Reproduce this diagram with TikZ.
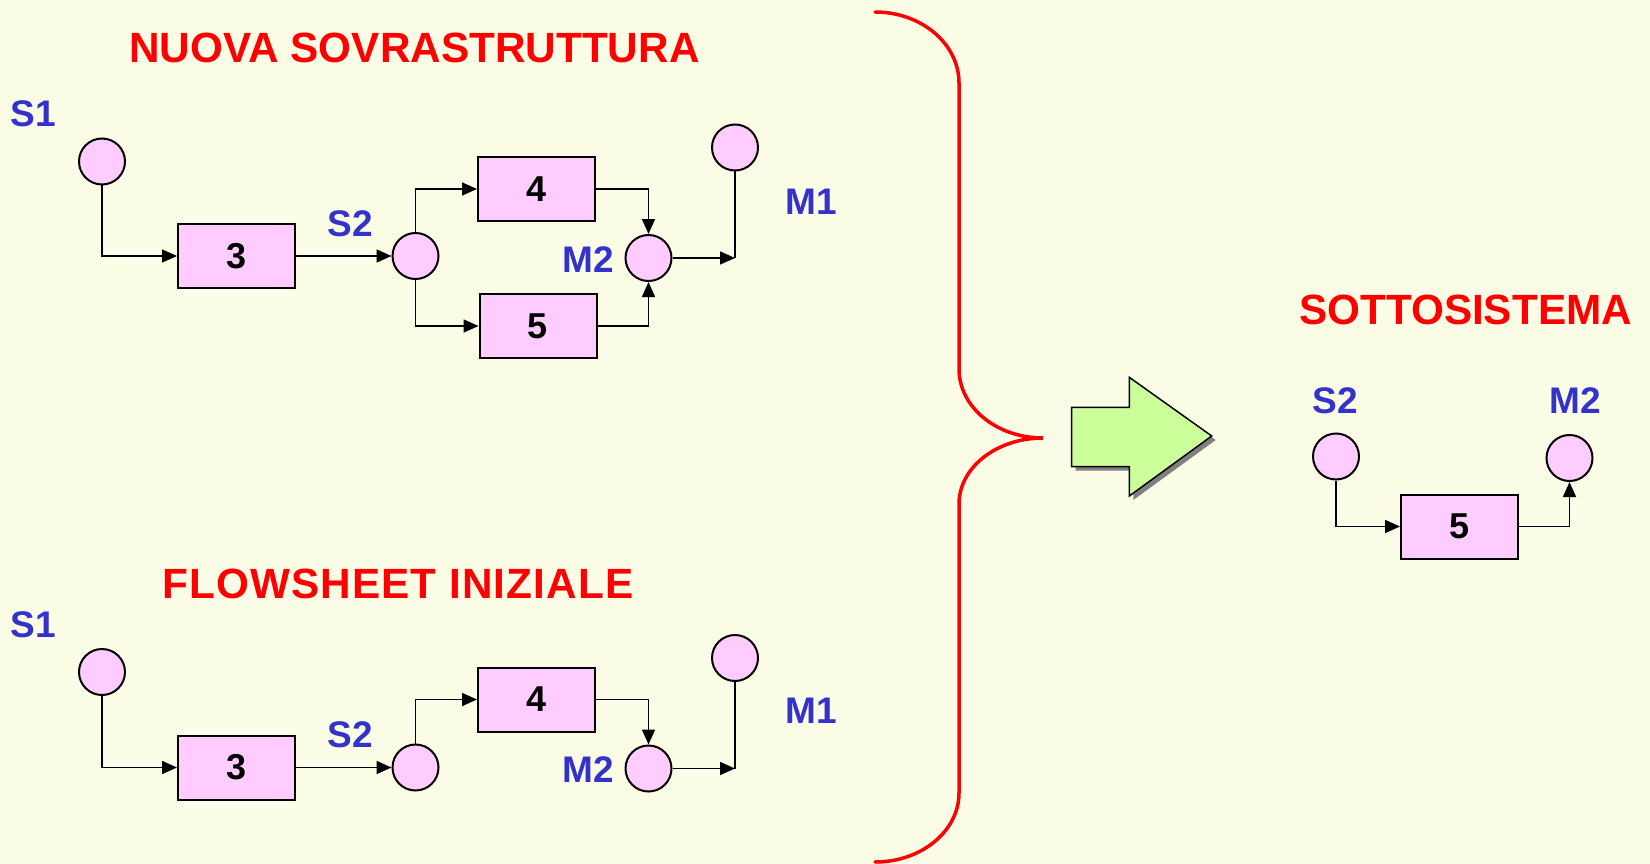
\documentclass[tikz,border=0pt]{standalone}
\usepackage{fontspec}
\setmainfont{Liberation Sans}
\usetikzlibrary{arrows.meta}
\definecolor{bg}{RGB}{250,252,230}
\definecolor{pinkfill}{RGB}{255,204,255}
\definecolor{lblue}{RGB}{51,51,204}
\definecolor{agreen}{RGB}{204,255,153}
\definecolor{shadowgray}{RGB}{128,128,128}
\begin{document}
\begin{tikzpicture}[x=1pt,y=-1pt,
  unitbox/.style={draw, line width=2pt, fill=pinkfill, minimum width=117pt, minimum height=64pt, inner sep=0pt, font=\fontsize{36}{36}\selectfont\bfseries},
  strm/.style={circle, draw, line width=2pt, fill=pinkfill, minimum size=46pt, inner sep=0pt},
  lbl/.style={text=lblue, font=\fontsize{37}{37}\selectfont\bfseries, inner sep=0pt},
  ttl/.style={text=red, font=\fontsize{42.3}{42.3}\selectfont\bfseries, inner sep=0pt},
  flow/.style={line width=1.6pt, -{Triangle[length=15pt,width=13pt]}},
  plainline/.style={line width=1.6pt}]
\fill[bg] (0,0) rectangle (1650,864);
\useasboundingbox (0,0) rectangle (1650,864);

% ---------- top: nuova sovrastruttura ----------
\node[ttl] (t1) at (414.5,48) {NUOVA SOVRASTRUTTURA};
\node[lbl] (a-s1l) at (33.5,114) {S1};
\node[strm] (a-s1) at (102,161.5) {};
\node[unitbox] (a-3) at (236.5,256) {3};
\node[strm] (a-s2) at (415.5,256) {};
\node[lbl] (a-s2l) at (350,224) {S2};
\node[unitbox] (a-4) at (536.5,189) {4};
\node[unitbox] (a-5) at (538,326) {5};
\node[strm] (a-m2) at (648.5,258) {};
\node[lbl] (a-m2l) at (588,260) {M2};
\node[strm] (a-m1) at (735,147.5) {};
\node[lbl] (a-m1l) at (811,202) {M1};
\coordinate (a-j) at (a-m1 |- a-m2);
\draw[flow] (a-s1.south) |- (a-3.west);
\draw[flow] (a-3.east) -- (a-s2.west);
\draw[flow] (a-s2.north) |- (a-4.west);
\draw[flow] (a-s2.south) |- (a-5.west);
\draw[flow] (a-4.east) -| (a-m2.north);
\draw[flow] (a-5.east) -| (a-m2.south);
\draw[flow] (a-m2.east) -- (a-j);
\draw[plainline] (a-j) -- (a-m1.south);

% ---------- bottom: flowsheet iniziale ----------
\node[ttl] (t2) at (398,584) {\addfontfeature{LetterSpace=2.5}FLOWSHEET INIZIALE};
\node[lbl] (b-s1l) at (33.5,624.5) {S1};
\node[strm] (b-s1) at (102,672) {};
\node[unitbox] (b-3) at (236.5,767.5) {3};
\node[strm] (b-s2) at (415.5,767.5) {};
\node[lbl] (b-s2l) at (350,734.5) {S2};
\node[unitbox] (b-4) at (536.5,699.5) {4};
\node[strm] (b-m2) at (648.5,768.5) {};
\node[lbl] (b-m2l) at (588,770) {M2};
\node[strm] (b-m1) at (735,658) {};
\node[lbl] (b-m1l) at (811,711) {M1};
\coordinate (b-j) at (b-m1 |- b-m2);
\draw[flow] (b-s1.south) |- (b-3.west);
\draw[flow] (b-3.east) -- (b-s2.west);
\draw[flow] (b-s2.north) |- (b-4.west);
\draw[flow] (b-4.east) -| (b-m2.north);
\draw[flow] (b-m2.east) -- (b-j);
\draw[plainline] (b-j) -- (b-m1.south);

% ---------- brace ----------
\draw[red, line width=3.5pt, line cap=round]
  (875,12) .. controls (921.4,12) and (959,43.8) .. (959,83)
  -- (959,369) .. controls (959,407.1) and (996.6,438) .. (1043,438)
  .. controls (996.6,438) and (959,467.5) .. (959,504)
  -- (959,793) .. controls (959,831.1) and (921.4,862) .. (875,862);

% ---------- big arrow ----------
\fill[shadowgray, shift={(4,4)}] (1071.5,407.3) -- (1129.3,407.3) -- (1129.3,377.3) -- (1211.7,436) -- (1129.3,496) -- (1129.3,466.7) -- (1071.5,466.7) -- cycle;
\draw[fill=agreen, line width=1.5pt, line join=miter] (1071.5,407.3) -- (1129.3,407.3) -- (1129.3,377.3) -- (1211.7,436) -- (1129.3,496) -- (1129.3,466.7) -- (1071.5,466.7) -- cycle;

% ---------- sottosistema ----------
\node[ttl] (t3) at (1465.5,310) {SOTTOSISTEMA};
\node[lbl] (c-s2l) at (1335,401) {S2};
\node[strm] (c-s2) at (1336,456.5) {};
\node[unitbox] (c-5) at (1459.5,526.5) {5};
\node[strm] (c-m2) at (1569.5,458) {};
\node[lbl] (c-m2l) at (1575,401) {M2};
\draw[flow] (c-s2.south) |- (c-5.west);
\draw[flow] (c-5.east) -| (c-m2.south);
\end{tikzpicture}
\end{document}
